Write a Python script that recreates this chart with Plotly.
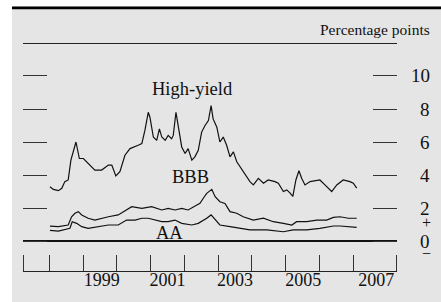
import plotly.graph_objects as go

# ---------------- data (decimal years, percentage points) ----------------
hy_years = [1998.02, 1998.12, 1998.27, 1998.37, 1998.46, 1998.56, 1998.64, 1998.71, 1998.79, 1998.84,
            1998.89, 1999.01, 1999.15, 1999.35, 1999.55, 1999.75, 1999.85, 1999.97, 2000.09, 2000.24,
            2000.39, 2000.54, 2000.63, 2000.74, 2000.83, 2000.93, 2000.98, 2001.08, 2001.18, 2001.26,
            2001.33, 2001.43, 2001.52, 2001.62, 2001.67, 2001.75, 2001.82, 2001.92, 2002.02, 2002.11,
            2002.22, 2002.31, 2002.41, 2002.51, 2002.61, 2002.71, 2002.79, 2002.85, 2002.96, 2003.05,
            2003.15, 2003.25, 2003.35, 2003.45, 2003.55, 2003.65, 2003.79, 2003.94, 2004.04, 2004.19,
            2004.34, 2004.48, 2004.68, 2004.78, 2004.93, 2005.03, 2005.13, 2005.21, 2005.30, 2005.39,
            2005.47, 2005.57, 2005.72, 2005.92, 2006.01, 2006.16, 2006.36, 2006.51, 2006.70, 2006.90,
            2007.00, 2007.10]
hy_values = [3.29, 3.13, 3.05, 3.19, 3.6, 3.7, 4.9, 5.5, 6.0, 5.5,
             5.0, 5.0, 4.7, 4.3, 4.3, 4.6, 4.6, 3.94, 4.2, 5.2,
             5.6, 5.7, 5.8, 5.9, 6.7, 7.8, 7.5, 6.3, 6.1, 6.8,
             6.3, 6.1, 6.4, 6.2, 6.4, 7.8, 6.9, 5.7, 5.3, 5.6,
             4.9, 5.1, 5.5, 6.6, 7.0, 7.3, 8.2, 7.4, 6.9, 6.0,
             6.3, 5.8, 5.1, 5.4, 4.8, 4.5, 4.0, 3.6, 3.4, 3.8,
             3.5, 3.7, 3.6, 3.5, 3.0, 3.1, 2.9, 2.7, 3.7, 4.26,
             3.8, 3.4, 3.6, 3.7, 3.7, 3.4, 3.0, 3.4, 3.7, 3.6,
             3.5, 3.2]

bbb_years = [1998.02, 1998.27, 1998.56, 1998.66, 1998.76, 1998.86, 1998.96, 1999.15, 1999.35, 1999.55,
             1999.75, 2000.04, 2000.29, 2000.44, 2000.74, 2001.03, 2001.33, 2001.52, 2001.72, 2001.92,
             2002.11, 2002.31, 2002.46, 2002.59, 2002.66, 2002.81, 2002.91, 2003.05, 2003.20, 2003.35,
             2003.55, 2003.74, 2004.04, 2004.34, 2004.63, 2004.93, 2005.18, 2005.32, 2005.62, 2005.92,
             2006.21, 2006.41, 2006.61, 2006.85, 2007.10]
bbb_values = [0.9, 0.87, 0.97, 1.47, 1.68, 1.78, 1.58, 1.38, 1.27, 1.38,
              1.47, 1.58, 1.88, 2.08, 1.98, 2.08, 1.88, 1.98, 1.88, 1.98,
              1.88, 2.08, 2.28, 2.68, 2.89, 3.13, 2.68, 2.38, 2.28, 1.78,
              1.68, 1.47, 1.27, 1.38, 1.17, 1.07, 0.97, 1.17, 1.17, 1.27,
              1.27, 1.43, 1.47, 1.38, 1.38]

aa_years = [1998.02, 1998.27, 1998.61, 1998.68, 1998.81, 1998.96, 1999.15, 1999.45, 1999.75, 2000.04,
            2000.29, 2000.54, 2000.74, 2000.93, 2001.13, 2001.33, 2001.52, 2001.72, 2001.92, 2002.22,
            2002.41, 2002.59, 2002.66, 2002.79, 2002.91, 2003.05, 2003.35, 2003.65, 2003.94, 2004.44,
            2004.93, 2005.22, 2005.62, 2006.01, 2006.41, 2006.61, 2007.10]
aa_values = [0.64, 0.6, 0.77, 1.17, 1.07, 0.87, 0.77, 0.87, 0.97, 0.97,
             1.27, 1.27, 1.38, 1.38, 1.27, 1.17, 1.17, 1.27, 1.07, 0.97,
             1.07, 1.27, 1.38, 1.58, 1.27, 0.97, 0.87, 0.77, 0.67, 0.67,
             0.56, 0.67, 0.67, 0.77, 0.91, 0.91, 0.83]

year_tick_positions = [1998, 1999, 2000, 2001, 2002, 2003, 2004, 2005, 2006, 2007]
year_label_positions = [1999.55, 2001.5, 2003.5, 2005.52, 2007.68]
year_labels = ["1999", "2001", "2003", "2005", "2007"]
y_tick_values = [0, 2, 4, 6, 8, 10]
y_tick_labels = ["0", "2", "4", "6", "8", "10"]

# ---------------- layout geometry ----------------
W, H = 441, 302
ML, MR, MT, MB = 23, 44, 44, 31
PW, PH = W - ML - MR, H - MT - MB
XR = [1997.222, 2008.293]
YR = [-1.818, 11.939]
FONT = "Liberation Serif"
GRAY = "#e5e5e5"
INK = "#111111"


def px_x(p):
    return (p - ML) / PW


def px_y(p):
    return (H - MB - p) / PH


fig = go.Figure()
for xs, ys in [(hy_years, hy_values), (bbb_years, bbb_values), (aa_years, aa_values)]:
    fig.add_trace(go.Scatter(x=xs, y=ys, mode="lines",
                             line=dict(color=INK, width=1.2), showlegend=False,
                             hoverinfo="skip"))

shapes = [
    # white strip left and top
    dict(type="rect", xref="paper", yref="paper", x0=px_x(-2), x1=px_x(12), y0=px_y(H + 2), y1=px_y(-2),
         fillcolor="white", line=dict(width=0), layer="below"),
    dict(type="rect", xref="paper", yref="paper", x0=px_x(-2), x1=px_x(W + 2), y0=px_y(6.5), y1=px_y(-2),
         fillcolor="white", line=dict(width=0), layer="below"),
    # black top rule
    dict(type="rect", xref="paper", yref="paper", x0=px_x(12), x1=px_x(W + 2), y0=px_y(9.3), y1=px_y(6.5),
         fillcolor="black", line=dict(width=0)),
]

edge_ticks = [XR[0] + 0.004, XR[1] - 0.004]

fig.update_layout(
    width=W, height=H,
    margin=dict(l=ML, r=MR, t=MT, b=MB, pad=0, autoexpand=False),
    paper_bgcolor=GRAY, plot_bgcolor=GRAY,
    shapes=shapes,
    font=dict(family=FONT, color=INK, size=18),
    xaxis=dict(range=XR, showgrid=False, zeroline=False, automargin=False,
               showline=True, mirror=True, linecolor="#222222", linewidth=1,
               tickmode="array", tickvals=year_label_positions, ticktext=year_labels,
               ticks="", tickfont=dict(family=FONT, size=18, color=INK),
               ticklabelstandoff=-8,
               minor=dict(tickmode="array", tickvals=edge_ticks + year_tick_positions,
                          ticks="inside", ticklen=16, tickwidth=1, tickcolor="#333333",
                          showgrid=False)),
    yaxis=dict(range=YR, showgrid=False, showline=False, automargin=False,
               zeroline=True, zerolinecolor=INK, zerolinewidth=1.5,
               tickmode="array", tickvals=y_tick_values,
               ticks="inside", ticklen=24, tickwidth=1, tickcolor="#333333",
               mirror="ticks", showticklabels=False),
)

annotations = []
for v, t in zip(y_tick_values, y_tick_labels):
    annotations.append(dict(x=1, xref="paper", y=v, yref="y", text=t, showarrow=False,
                            xanchor="right", yanchor="middle", xshift=35,
                            font=dict(family=FONT, size=19, color=INK)))
annotations.append(dict(x=1, xref="paper", y=1.15, yref="y", text="+", showarrow=False,
                        xanchor="center", yanchor="middle", xshift=29,
                        font=dict(family=FONT, size=16, color=INK)))
annotations.append(dict(x=1, xref="paper", y=-0.73, yref="y", text="\u2212", showarrow=False,
                        xanchor="center", yanchor="middle", xshift=29,
                        font=dict(family=FONT, size=16, color=INK)))
annotations.append(dict(x=1, xref="paper", y=px_y(30), yref="paper", text="Percentage points",
                        showarrow=False, xanchor="right", yanchor="middle", xshift=35,
                        font=dict(family=FONT, size=15.5, color=INK)))
annotations.append(dict(x=2002.25, y=9.2, text="High-yield", showarrow=False,
                        xanchor="center", yanchor="middle",
                        font=dict(family=FONT, size=18.5, color=INK)))
annotations.append(dict(x=2002.17, y=3.9, text="BBB", showarrow=False,
                        xanchor="center", yanchor="middle",
                        font=dict(family=FONT, size=18.5, color=INK)))
annotations.append(dict(x=2001.57, y=0.5, text="AA", showarrow=False,
                        xanchor="center", yanchor="middle",
                        font=dict(family=FONT, size=18.5, color=INK)))
fig.update_layout(annotations=annotations)

# remove the default 8px page margin so the figure sits at the window's corner
fig.write_html("out.html", config={"displayModeBar": False},
               post_script="document.body.style.margin='0px';document.body.style.padding='0px';")
